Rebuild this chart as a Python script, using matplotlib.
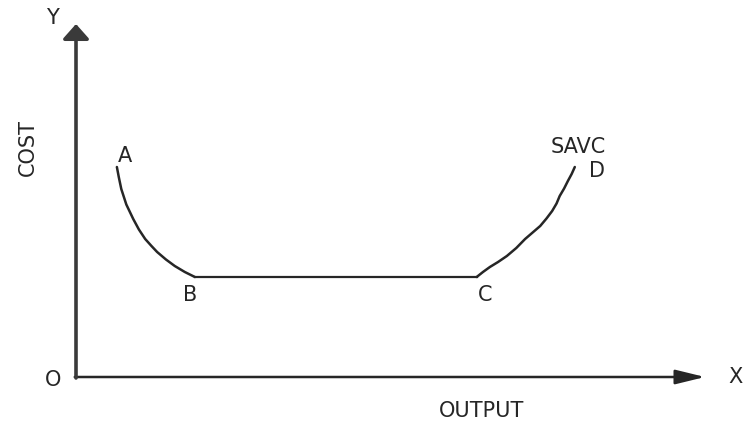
import matplotlib
matplotlib.use("Agg")
import matplotlib.pyplot as plt

# SAVC curve (output, cost)
ab_x = [0.65, 0.68, 0.72, 0.80, 0.91, 1.00, 1.10, 1.20, 1.29, 1.43, 1.57, 1.73, 1.89]
ab_y = [4.20, 4.00, 3.76, 3.45, 3.16, 2.95, 2.76, 2.62, 2.50, 2.35, 2.22, 2.10, 2.00]
bc_x = [1.89, 6.37]
bc_y = [2.00, 2.00]
cd_x = [6.37, 6.47, 6.58, 6.71, 6.85, 7.00, 7.14, 7.26, 7.38, 7.48, 7.57, 7.64, 7.69, 7.76, 7.82, 7.88, 7.93]
cd_y = [2.00, 2.10, 2.20, 2.30, 2.42, 2.58, 2.76, 2.89, 3.02, 3.17, 3.32, 3.47, 3.62, 3.77, 3.92, 4.06, 4.20]

point_names = ["A", "B", "C", "D"]
point_pos = [(0.78, 4.45), (1.81, 1.66), (6.50, 1.66), (8.28, 4.14)]

plt.rcParams['font.family'] = ['DejaVu Sans']

fig = plt.figure(figsize=(7.52, 4.27), dpi=100)
ax = fig.add_axes([0, 0, 1, 1])
ax.set_xlim(-76 / 62.9, 676 / 62.9)
ax.set_ylim(-49 / 50, 378 / 50)
ax.axis('off')

ink = '#262626'

# axes with arrows
ax.annotate("", xy=(10.0, 0), xytext=(-0.02, 0),
            arrowprops=dict(arrowstyle='-|>,head_length=0.9,head_width=0.22',
                            mutation_scale=20, color=ink, lw=1.8,
                            shrinkA=0, shrinkB=0))
ax.annotate("", xy=(0, 7.06), xytext=(0, -0.02),
            arrowprops=dict(arrowstyle='-|>,head_length=0.45,head_width=0.4',
                            mutation_scale=20, color='#3a3a3a', lw=2.6,
                            shrinkA=0, shrinkB=0))

# SAVC curve
ax.plot(ab_x, ab_y, color=ink, lw=1.8, solid_capstyle='round')
ax.plot(bc_x, bc_y, color=ink, lw=1.6)
ax.plot(cd_x, cd_y, color=ink, lw=1.8, solid_capstyle='round')

fs = 15
for name, (x, y) in zip(point_names, point_pos):
    ax.text(x, y, name, fontsize=fs, color=ink, ha='center', va='center')

ax.text(7.98, 4.62, "SAVC", fontsize=fs, color=ink, ha='center', va='center')
ax.text(-0.37, -0.04, "O", fontsize=fs, color=ink, ha='center', va='center')
ax.text(-0.38, 7.20, "Y", fontsize=fs, color=ink, ha='center', va='center')
ax.text(10.48, 0.02, "X", fontsize=fs, color=ink, ha='center', va='center')
ax.text(-0.76, 4.60, "COST", fontsize=fs, color=ink, ha='center', va='center',
        rotation=90)
ax.text(6.45, -0.67, "OUTPUT", fontsize=fs, color=ink, ha='center', va='center')

fig.savefig("out.png", dpi=100, facecolor='white')
